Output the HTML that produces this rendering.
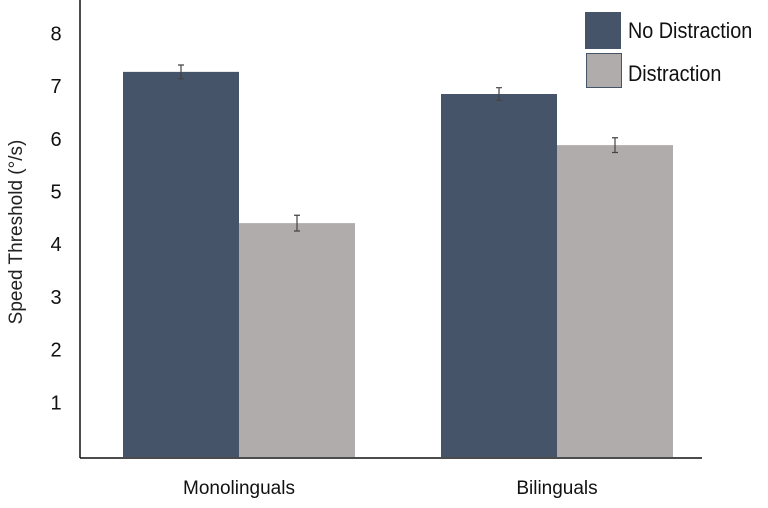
<!DOCTYPE html>
<html><head><meta charset="utf-8"><style>
body{margin:0;background:#fff;width:768px;height:503px;overflow:hidden}
svg{font-family:"Liberation Sans",sans-serif}
</style></head><body>
<svg id="chart" width="768" height="503">
<line x1="80" y1="0" x2="80" y2="458" stroke="#111" stroke-width="1.5"/>
<line x1="80" y1="458" x2="702" y2="458" stroke="#111" stroke-width="1.5"/>
<text transform="translate(22,232) rotate(-90)" text-anchor="middle" font-size="19" fill="#222">Speed Threshold (°/s)</text>
<g>
<rect x="585" y="12" width="36" height="37" fill="#46546a"/>
<text x="628" y="38" font-size="22" fill="#111" transform="scale(0.9,1)" transform-origin="628 38">No Distraction</text>
<rect x="586.5" y="53.5" width="35" height="34" fill="#b0acab" stroke="#46546a" stroke-width="1"/>
<text x="628" y="81" font-size="22" fill="#111" transform="scale(0.9,1)" transform-origin="628 81">Distraction</text>
</g>
<g id="marks"></g>
</svg>
<script>
const categories=["Monolinguals","Bilinguals"];
const noDistraction=[7.27,6.85];
const distraction=[4.40,5.88];
const errND=[0.13,0.12];
const errD=[0.15,0.14];
const yTicks=[1,2,3,4,5,6,7,8];
const NS="http://www.w3.org/2000/svg";
const y0=455,pxPer=52.7;
const y=v=>y0-v*pxPer;
const groupLeft=i=>123+i*318;
const bw=116;
const g=document.getElementById('marks');
function mk(t,a){const e=document.createElementNS(NS,t);for(const k in a)e.setAttribute(k,a[k]);g.appendChild(e);return e;}
yTicks.forEach(t=>{const e=mk('text',{x:56,y:y(t)+7,'text-anchor':'middle','font-size':20,fill:'#111'});e.textContent=t;

});
categories.forEach((c,i)=>{
 const series=[[noDistraction[i],errND[i],'#46546a','no-distraction'],[distraction[i],errD[i],'#b0acab','distraction']];
 series.forEach((s,j)=>{
  const x=groupLeft(i)+j*bw;
  const r=mk('rect',{x:x,y:y(s[0]),width:bw,height:y0+2-y(s[0]),fill:s[2]});
  
  
  const cx=x+bw/2;
  const eb=mk('path',{d:`M${cx},${y(s[0]+s[1])}V${y(s[0]-s[1])}M${cx-3},${y(s[0]+s[1])}H${cx+3}M${cx-3},${y(s[0]-s[1])}H${cx+3}`,stroke:'#444','stroke-width':1.2,fill:'none'});
  
  
 });
 const t=mk('text',{x:groupLeft(i)+bw,y:494,'text-anchor':'middle','font-size':19,fill:'#111'});
 t.textContent=c;
 
 
});
</script>
</body></html>
